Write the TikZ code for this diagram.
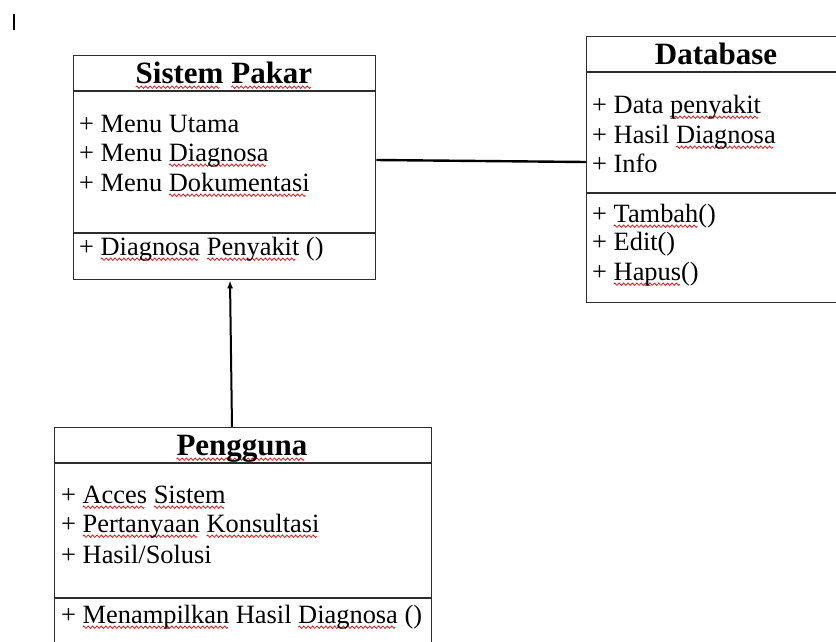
\documentclass[tikz,border=0pt]{standalone}
\usepackage{fontspec}
\setmainfont{Liberation Serif}
\usetikzlibrary{arrows.meta}
\definecolor{spellred}{RGB}{215,30,30}
\definecolor{boxline}{RGB}{45,45,45}
\newsavebox\wavebox
\newsavebox\wordbox
% red wavy underline below a word
\newcommand\spell[1]{%
  \sbox\wordbox{#1}%
  \rlap{\lower4.2pt\hbox to\wd\wordbox{\leaders\copy\wavebox\hfill}}%
  \usebox\wordbox}
\begin{document}
% one period of the wave
\sbox\wavebox{\begin{pgfpicture}%
  \pgfpathrectangle{\pgfpoint{0pt}{-1.3pt}}{\pgfpoint{4.4pt}{2.6pt}}%
  \pgfusepath{use as bounding box}%
  \pgfsetbaseline{0pt}%
  \pgfsetstrokecolor{spellred}%
  \pgfsetlinewidth{0.8pt}%
  \pgfpathmoveto{\pgfpoint{0pt}{0pt}}%
  \pgfpathsine{\pgfpoint{1.1pt}{1.2pt}}%
  \pgfpathcosine{\pgfpoint{1.1pt}{-1.2pt}}%
  \pgfpathsine{\pgfpoint{1.1pt}{-1.2pt}}%
  \pgfpathcosine{\pgfpoint{1.1pt}{1.2pt}}%
  \pgfusepath{stroke}%
\end{pgfpicture}}%
\begin{tikzpicture}[x=1pt,y=-1pt,
  classbox/.style={draw=boxline, line width=1.4pt, rectangle, inner sep=0pt, anchor=north west},
  sepline/.style={draw=boxline, line width=1.4pt},
  title/.style={anchor=base, inner sep=0pt, font=\fontsize{31}{36}\selectfont\bfseries},
  member/.style={anchor=base west, inner sep=0pt, font=\fontsize{26.4}{30}\selectfont},
  assoc/.style={draw=black, line width=2.4pt},
  arr/.style={draw=black, line width=2pt, -{Latex[length=8pt,width=6pt]}}]
\clip (0,0) rectangle (836,641);
\fill[white] (0,0) rectangle (836,641);

% text cursor mark
\draw[black, line width=1.6pt] (14,14) -- (14,30);

% ---- Sistem Pakar ----
\node[classbox, minimum width=302pt, minimum height=224pt] (sp) at (73,55) {};
\draw[sepline] (73,91) -- (375,91);
\draw[sepline] (73,233) -- (375,233);
\node[title] (spt) at (224,83) {\spell{Sistem} \spell{Pakar}};
\node[member] (sp1) at (79,132) {+ Menu Utama};
\node[member] (sp2) at (79,161) {+ Menu \spell{Diagnosa}};
\node[member] (sp3) at (79,191) {+ Menu \spell{Dokumentasi}};
\node[member] (spm) at (79,255) {+ \spell{Diagnosa} \spell{Penyakit} ()};

% ---- Database ----
\node[classbox, minimum width=270pt, minimum height=266pt] (db) at (586,36) {};
\draw[sepline] (586,72) -- (856,72);
\draw[sepline] (586,193) -- (856,193);
\node[title] (dbt) at (716,64) {Database};
\node[member] (db1) at (592,113) {+ Data \spell{penyakit}};
\node[member] (db2) at (592,143) {+ Hasil \spell{Diagnosa}};
\node[member] (db3) at (592,172) {+ Info};
\node[member] (db4) at (592,222) {+ \spell{Tambah}()};
\node[member] (db5) at (592,250) {+ Edit()};
\node[member] (db6) at (592,280) {+ \spell{Hapus}()};

% ---- Pengguna ----
\node[classbox, minimum width=377pt, minimum height=240pt] (pg) at (54,427) {};
\draw[sepline] (54,463) -- (431,463);
\draw[sepline] (54,598) -- (431,598);
\node[title] (pgt) at (242,455) {\spell{Pengguna}};
\node[member] (pg1) at (61,503) {+ \spell{Acces} \spell{Sistem}};
\node[member] (pg2) at (61,532) {+ \spell{Pertanyaan} \spell{Konsultasi}};
\node[member] (pg3) at (61,563) {+ Hasil/Solusi};
\node[member] (pgm) at (61,623) {+ \spell{Menampilkan} Hasil \spell{Diagnosa} ()};

% ---- relations ----
\draw[assoc] (sp.east |- 0,160) -- (db.west |- 0,162);
\draw[arr] (pg.north -| 232,0) -- (sp.south -| 230,0);
\end{tikzpicture}
\end{document}
